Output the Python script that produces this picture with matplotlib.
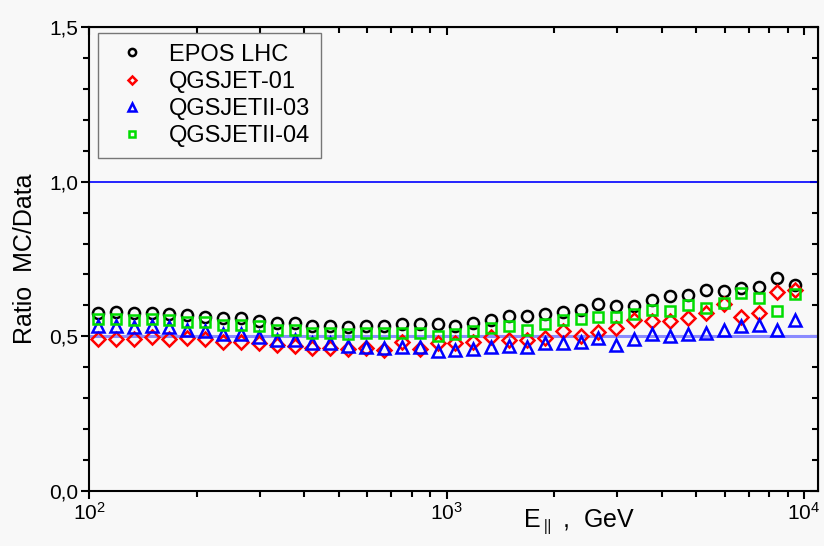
import matplotlib
matplotlib.use("Agg")
import matplotlib.pyplot as plt
from matplotlib.ticker import FuncFormatter, MultipleLocator, LogLocator, NullFormatter

plt.rcParams["font.family"] = ["Liberation Sans", "DejaVu Sans"]
plt.rcParams["mathtext.fontset"] = "custom"
plt.rcParams["mathtext.rm"] = "Liberation Sans"
plt.rcParams["mathtext.it"] = "Liberation Sans:italic"

# energy bin centres, GeV (20 bins per decade)
energy = [105.9, 118.9, 133.4, 149.6, 167.9, 188.4, 211.3, 237.1, 266.1, 298.5,
          335.0, 375.8, 421.7, 473.2, 530.9, 595.7, 668.3, 749.9, 841.4, 944.1,
          1059, 1189, 1334, 1496, 1679, 1884, 2113, 2371, 2661, 2985,
          3350, 3758, 4217, 4732, 5309, 5957, 6683, 7499, 8414, 9441]

epos_lhc = [0.577, 0.580, 0.575, 0.577, 0.573, 0.570, 0.564, 0.559, 0.559, 0.551,
            0.543, 0.543, 0.534, 0.534, 0.530, 0.534, 0.534, 0.539, 0.539, 0.539,
            0.533, 0.543, 0.553, 0.565, 0.565, 0.573, 0.579, 0.585, 0.606, 0.597,
            0.599, 0.618, 0.629, 0.635, 0.650, 0.645, 0.657, 0.660, 0.688, 0.667]

qgsjet_01 = [0.490, 0.492, 0.491, 0.499, 0.492, 0.494, 0.490, 0.482, 0.483, 0.477,
             0.472, 0.468, 0.463, 0.461, 0.460, 0.462, 0.457, 0.482, 0.459, 0.477,
             0.479, 0.483, 0.497, 0.488, 0.488, 0.496, 0.516, 0.500, 0.513, 0.526,
             0.552, 0.548, 0.551, 0.559, 0.575, 0.604, 0.562, 0.575, 0.642, 0.649]

qgsjetii_03 = [0.535, 0.533, 0.530, 0.533, 0.530, 0.521, 0.517, 0.509, 0.509, 0.498,
               0.489, 0.487, 0.479, 0.478, 0.468, 0.466, 0.462, 0.465, 0.465, 0.451,
               0.457, 0.460, 0.467, 0.468, 0.466, 0.477, 0.479, 0.481, 0.494, 0.473,
               0.490, 0.506, 0.502, 0.508, 0.510, 0.521, 0.532, 0.537, 0.521, 0.552]

qgsjetii_04 = [0.556, 0.556, 0.553, 0.556, 0.553, 0.545, 0.545, 0.537, 0.537, 0.534,
               0.521, 0.521, 0.512, 0.512, 0.508, 0.510, 0.510, 0.512, 0.512, 0.501,
               0.509, 0.517, 0.527, 0.534, 0.520, 0.541, 0.554, 0.557, 0.564, 0.564,
               0.573, 0.586, 0.583, 0.602, 0.591, 0.607, 0.640, 0.624, 0.583, 0.637]

series = [
    ("EPOS LHC", epos_lhc, "o", "black", 8.0),
    ("QGSJET-01", qgsjet_01, "D", "#ff0000", 7.0),
    ("QGSJETII-03", qgsjetii_03, "^", "#0000ff", 8.0),
    ("QGSJETII-04", qgsjetii_04, "s", "#00dd00", 6.5),
]

bg = "#f8f8f8"
fig = plt.figure(figsize=(8.24, 5.46), dpi=100, facecolor=bg)
ax = fig.add_axes([89 / 824, 55 / 546, 729 / 824, 464 / 546], facecolor=bg)

ax.axhline(1.0, color="#0000ff", lw=1.2, zorder=1)
ax.axhline(0.5, color="#8a8aff", lw=2.2, zorder=1)

for label, vals, mk, col, ms in series:
    ax.plot(energy, vals, linestyle="none", marker=mk, markersize=ms,
            markerfacecolor="none", markeredgecolor=col, markeredgewidth=1.8,
            label=label, zorder=3)

ax.set_xscale("log")
ax.set_xlim(100, 10940)
ax.set_ylim(0, 1.5)

ax.yaxis.set_major_locator(MultipleLocator(0.5))
ax.yaxis.set_minor_locator(MultipleLocator(0.1))
ax.yaxis.set_major_formatter(FuncFormatter(lambda v, p: f"{v:.1f}".replace(".", ",")))
ax.xaxis.set_major_locator(LogLocator(base=10, numticks=5))
ax.xaxis.set_minor_locator(LogLocator(base=10, subs=range(2, 10), numticks=20))
ax.xaxis.set_minor_formatter(NullFormatter())

for s in ax.spines.values():
    s.set_linewidth(1.5)

ax.tick_params(which="major", direction="out", length=6, width=1.5, labelsize=15, pad=2)
ax.tick_params(which="minor", direction="out", length=4, width=1.5)

# mirrored ticks on top / right, pointing inward
top = ax.secondary_xaxis("top")
top.tick_params(which="major", direction="in", length=6, width=1.5, labeltop=False)
top.tick_params(which="minor", direction="in", length=4, width=1.5)
top.xaxis.set_major_formatter(NullFormatter())
right = ax.secondary_yaxis("right")
right.yaxis.set_major_locator(MultipleLocator(0.5))
right.yaxis.set_minor_locator(MultipleLocator(0.1))
right.tick_params(which="major", direction="in", length=6, width=1.5, labelright=False)
right.tick_params(which="minor", direction="in", length=4, width=1.5)

ax.set_ylabel("Ratio  MC/Data", fontsize=18)
ax.yaxis.set_label_coords(-0.072, 0.5)
ax.set_xlabel(r"E$_{\parallel}$ ,  GeV", fontsize=18)
ax.xaxis.set_label_coords(0.672, -0.035)

leg = ax.legend(loc="upper left", bbox_to_anchor=(0.0123, 0.987), borderaxespad=0,
                fontsize=17, markerscale=0.65, handlelength=2.0, handletextpad=0.55,
                borderpad=0.45, labelspacing=0.22, fancybox=False, framealpha=1)
leg.get_frame().set_edgecolor("#777777")
leg.get_frame().set_facecolor(bg)
leg.get_frame().set_linewidth(1.0)

fig.savefig("out.png", dpi=100, facecolor=bg)
